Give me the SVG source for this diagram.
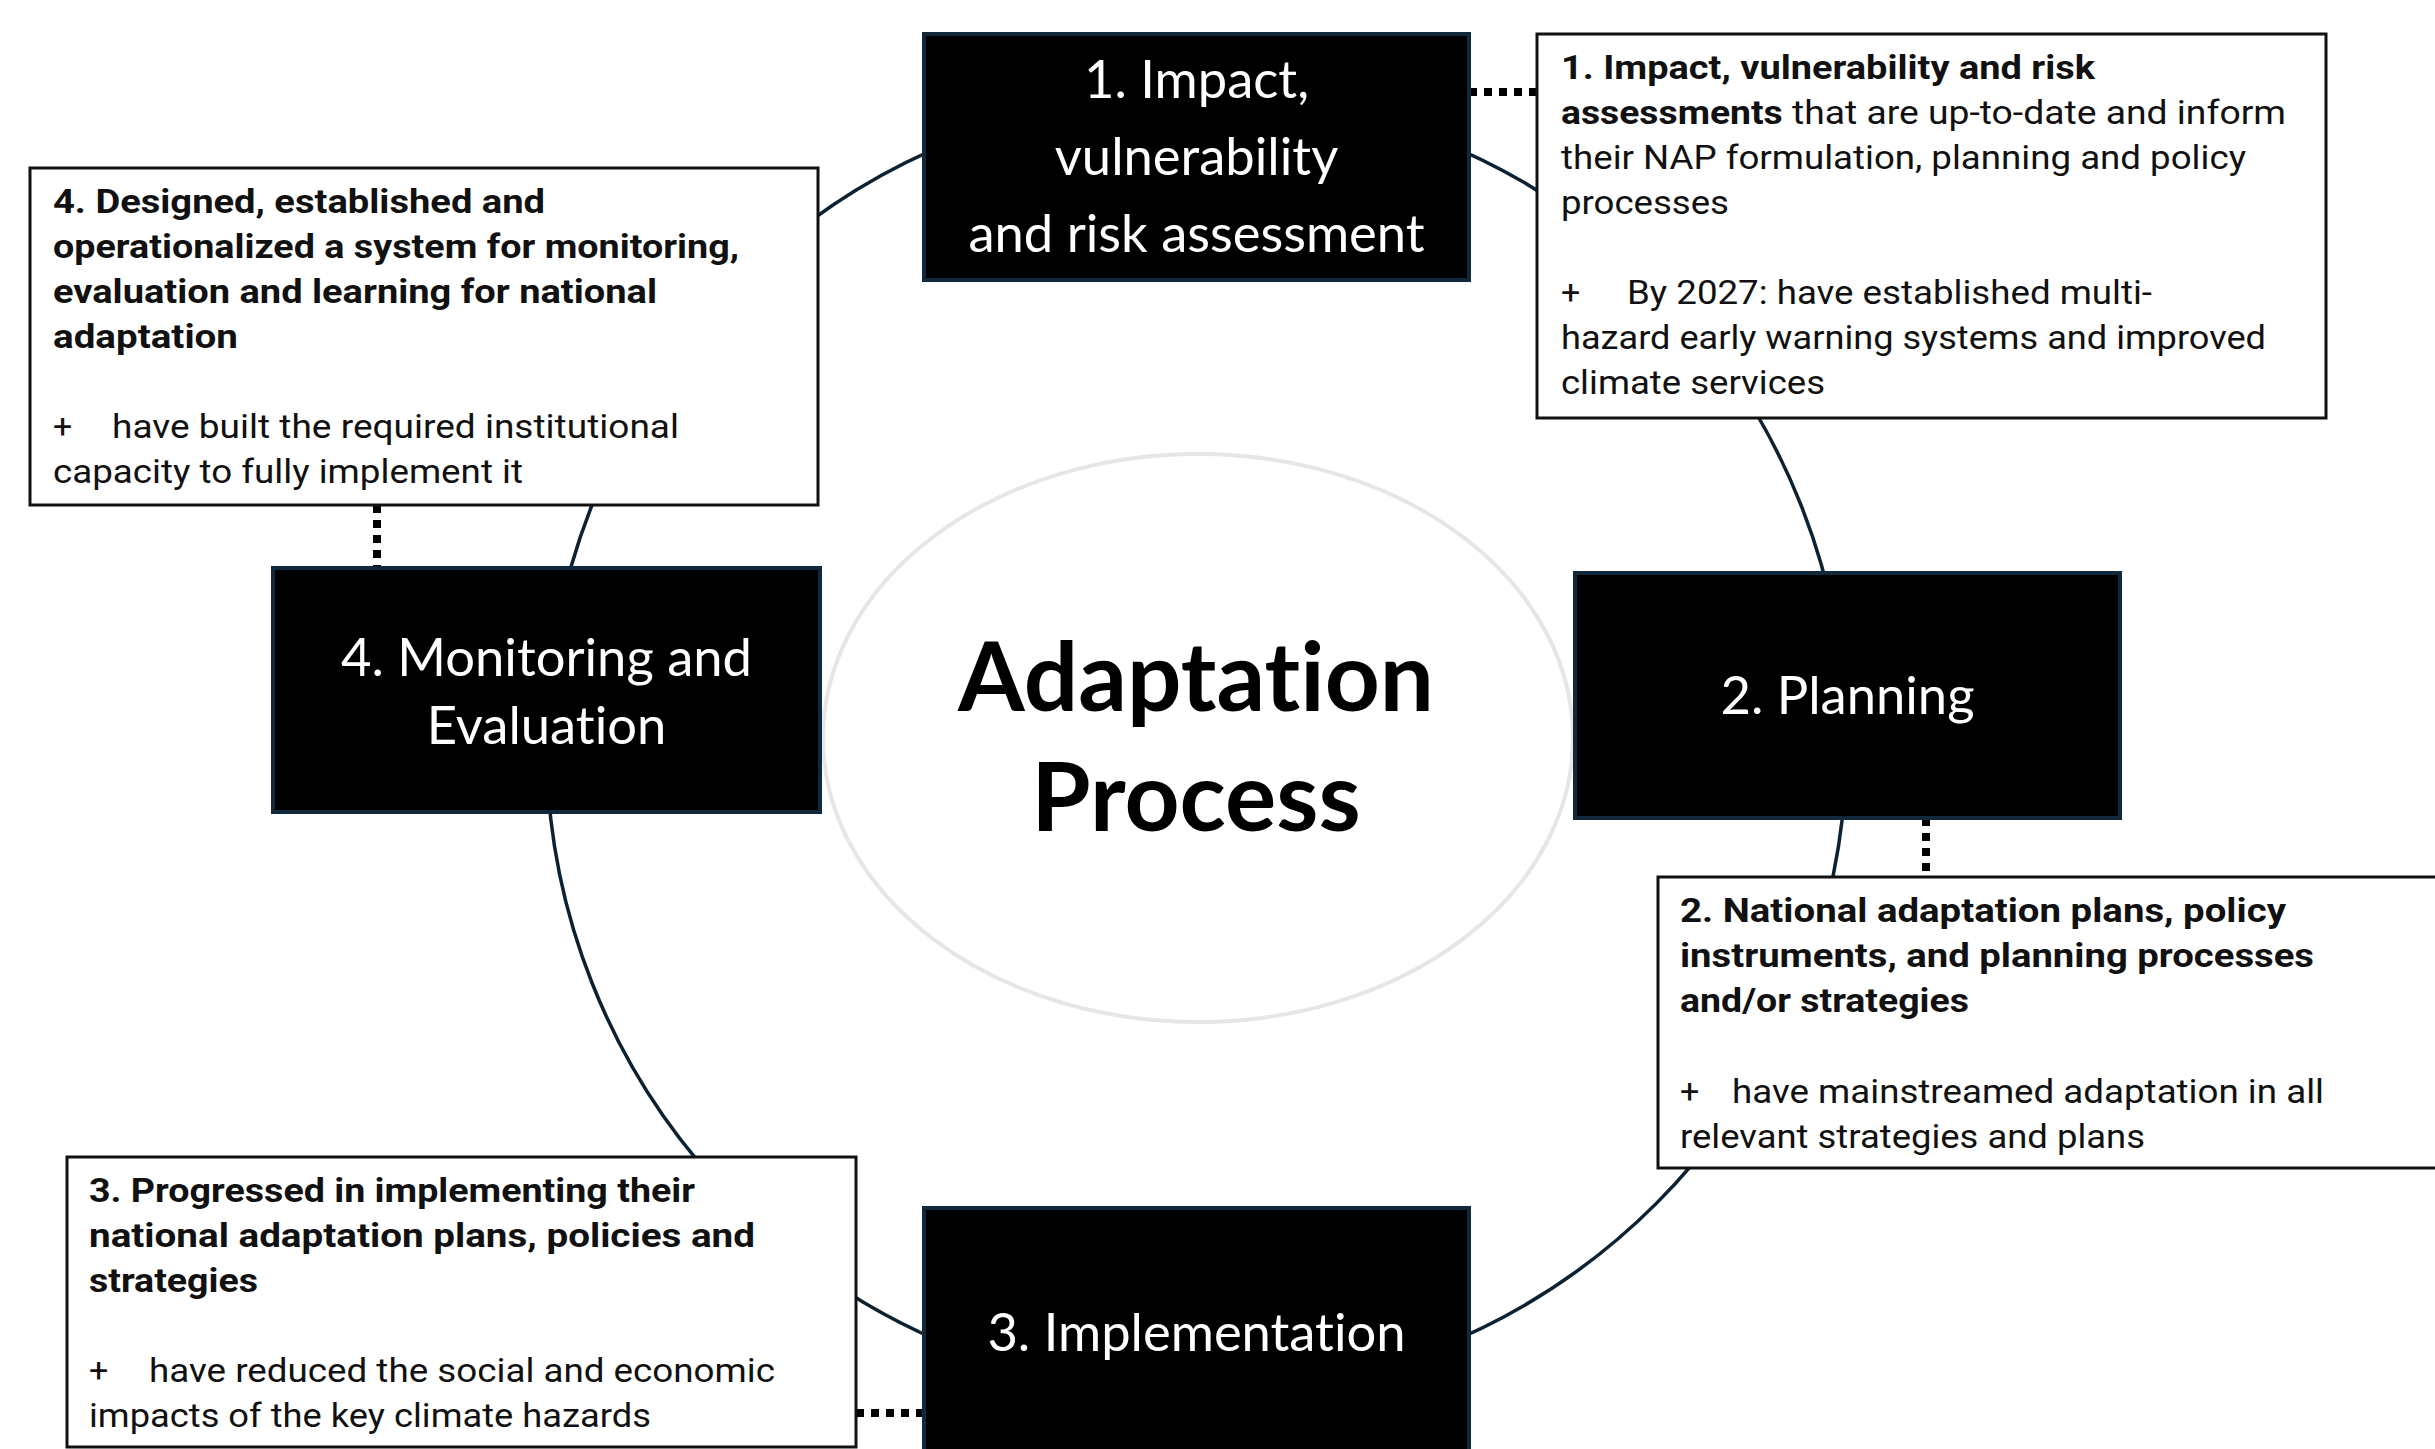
<svg xmlns="http://www.w3.org/2000/svg" width="2435" height="1449" viewBox="0 0 2435 1449">
  <style>
    .stage { fill: #000000; stroke: #10283a; stroke-width: 4; }
    .stage-label { font-family: Lato, "Open Sans", sans-serif; font-size: 52.5px; fill: #ffffff; text-anchor: middle; font-variant-ligatures: none; }
    .note { fill: #ffffff; stroke: #111111; stroke-width: 3; }
    .note-text { font-family: Roboto, "Liberation Sans", sans-serif; font-size: 34px; fill: #111111; }
    .b { font-weight: 700; }
    .cycle { fill: none; stroke: #0c2232; stroke-width: 3.5; }
    .link { fill: none; stroke: #000000; stroke-width: 8; stroke-dasharray: 8 7; }
    .hub { fill: #ffffff; stroke: #e6e6e6; stroke-width: 4; }
    .hub-label { font-family: Lato, "Open Sans", sans-serif; font-size: 96px; font-weight: 700; fill: #000000; text-anchor: middle; font-variant-ligatures: none; }
  </style>

  <rect width="2435" height="1449" fill="#ffffff"/>

  <!-- cycle ring and dotted links between stages and their notes -->
  <g id="connectors">
    <circle class="cycle" cx="1196.5" cy="744" r="650"/>
    <line class="link" x1="1469" y1="92" x2="1537" y2="92"/>
    <line class="link" x1="377" y1="505" x2="377" y2="568"/>
    <line class="link" x1="1926" y1="818" x2="1926" y2="877"/>
    <line class="link" x1="856" y1="1413" x2="924" y2="1413"/>
  </g>

  <!-- centre -->
  <g id="hub">
    <ellipse class="hub" cx="1198" cy="738" rx="375" ry="284"/>
    <text class="hub-label" x="1196" y="711">Adaptation</text>
    <text class="hub-label" x="1196" y="831">Process</text>
  </g>

  <!-- stage 1 -->
  <g id="stage-1">
    <rect class="stage" x="924" y="34" width="545" height="246"/>
    <text class="stage-label" x="1196.5" y="98">1. Impact,</text>
    <text class="stage-label" x="1196.5" y="175">vulnerability</text>
    <text class="stage-label" x="1196.5" y="252">and risk assessment</text>
  </g>

  <!-- stage 2 -->
  <g id="stage-2">
    <rect class="stage" x="1575" y="573" width="545" height="245"/>
    <text class="stage-label" x="1847.5" y="714">2. Planning</text>
  </g>

  <!-- stage 3 -->
  <g id="stage-3">
    <rect class="stage" x="924" y="1208" width="545" height="250"/>
    <text class="stage-label" x="1196.5" y="1351">3. Implementation</text>
  </g>

  <!-- stage 4 -->
  <g id="stage-4">
    <rect class="stage" x="273" y="568" width="547" height="244"/>
    <text class="stage-label" x="546.5" y="676">4. Monitoring and</text>
    <text class="stage-label" x="546.5" y="744">Evaluation</text>
  </g>

  <!-- note 1 -->
  <g id="note-1">
    <rect class="note" x="1537" y="34" width="789" height="384"/>
    <text class="note-text b" x="1561" y="79" textLength="534" lengthAdjust="spacingAndGlyphs">1. Impact, vulnerability and risk</text>
    <text class="note-text" x="1561" y="124" textLength="725" lengthAdjust="spacingAndGlyphs"><tspan class="b">assessments</tspan> that are up-to-date and inform</text>
    <text class="note-text" x="1561" y="169" textLength="685" lengthAdjust="spacingAndGlyphs">their NAP formulation, planning and policy</text>
    <text class="note-text" x="1561" y="214" textLength="168" lengthAdjust="spacingAndGlyphs">processes</text>
    <text class="note-text" x="1561" y="304">+</text>
    <text class="note-text" x="1627" y="304" textLength="525" lengthAdjust="spacingAndGlyphs">By 2027: have established multi-</text>
    <text class="note-text" x="1561" y="349" textLength="705" lengthAdjust="spacingAndGlyphs">hazard early warning systems and improved</text>
    <text class="note-text" x="1561" y="394" textLength="264" lengthAdjust="spacingAndGlyphs">climate services</text>
  </g>

  <!-- note 2 -->
  <g id="note-2">
    <rect class="note" x="1658" y="877" width="789" height="291"/>
    <text class="note-text b" x="1680" y="922" textLength="606" lengthAdjust="spacingAndGlyphs">2. National adaptation plans, policy</text>
    <text class="note-text b" x="1680" y="967" textLength="634" lengthAdjust="spacingAndGlyphs">instruments, and planning processes</text>
    <text class="note-text b" x="1680" y="1012" textLength="289" lengthAdjust="spacingAndGlyphs">and/or strategies</text>
    <text class="note-text" x="1680" y="1103">+</text>
    <text class="note-text" x="1732" y="1103" textLength="592" lengthAdjust="spacingAndGlyphs">have mainstreamed adaptation in all</text>
    <text class="note-text" x="1680" y="1148" textLength="465" lengthAdjust="spacingAndGlyphs">relevant strategies and plans</text>
  </g>

  <!-- note 3 -->
  <g id="note-3">
    <rect class="note" x="67" y="1157" width="789" height="290"/>
    <text class="note-text b" x="89" y="1202" textLength="606" lengthAdjust="spacingAndGlyphs">3. Progressed in implementing their</text>
    <text class="note-text b" x="89" y="1247" textLength="666" lengthAdjust="spacingAndGlyphs">national adaptation plans, policies and</text>
    <text class="note-text b" x="89" y="1292" textLength="169" lengthAdjust="spacingAndGlyphs">strategies</text>
    <text class="note-text" x="89" y="1382">+</text>
    <text class="note-text" x="149" y="1382" textLength="626" lengthAdjust="spacingAndGlyphs">have reduced the social and economic</text>
    <text class="note-text" x="89" y="1427" textLength="562" lengthAdjust="spacingAndGlyphs">impacts of the key climate hazards</text>
  </g>

  <!-- note 4 -->
  <g id="note-4">
    <rect class="note" x="30" y="168" width="788" height="337"/>
    <text class="note-text b" x="53" y="213" textLength="492" lengthAdjust="spacingAndGlyphs">4. Designed, established and</text>
    <text class="note-text b" x="53" y="258" textLength="686" lengthAdjust="spacingAndGlyphs">operationalized a system for monitoring,</text>
    <text class="note-text b" x="53" y="303" textLength="604" lengthAdjust="spacingAndGlyphs">evaluation and learning for national</text>
    <text class="note-text b" x="53" y="348" textLength="185" lengthAdjust="spacingAndGlyphs">adaptation</text>
    <text class="note-text" x="53" y="438">+</text>
    <text class="note-text" x="112" y="438" textLength="567" lengthAdjust="spacingAndGlyphs">have built the required institutional</text>
    <text class="note-text" x="53" y="483" textLength="470" lengthAdjust="spacingAndGlyphs">capacity to fully implement it</text>
  </g>
</svg>
